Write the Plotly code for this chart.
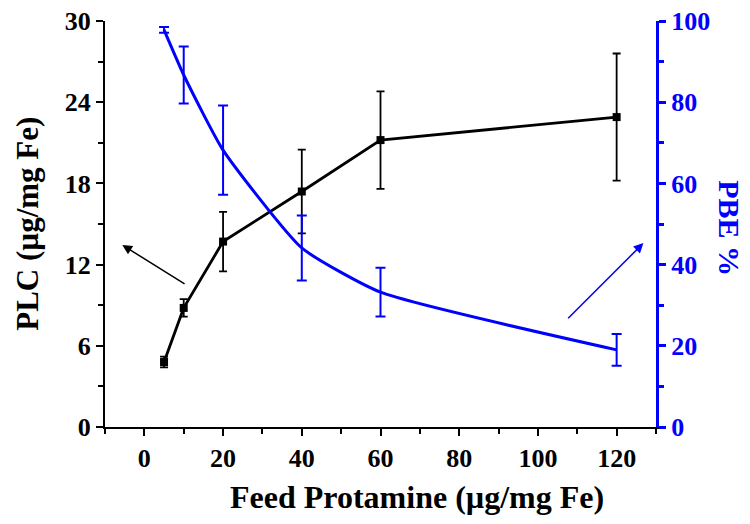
import plotly.graph_objects as go

# Feed protamine vs loading capacity / binding efficiency
feed = [5, 10, 20, 40, 60, 120]
plc = [4.8, 8.8, 13.7, 17.4, 21.2, 22.9]
plc_err = [0.4, 0.65, 2.2, 3.1, 3.6, 4.7]
pbe = [97.8, 86.7, 68.2, 44.1, 33.2, 19.0]
pbe_err = [0.7, 7.0, 11.0, 8.0, 6.0, 3.9]

FONT = "Liberation Serif"
BLUE = "#0000ff"

fig = go.Figure()

fig.add_trace(go.Scatter(
    x=feed, y=plc, mode="lines+markers", name="PLC",
    line=dict(color="black", width=2.8),
    marker=dict(symbol="square", size=8, color="black"),
    error_y=dict(type="data", array=plc_err, color="black", thickness=1.8, width=4),
))

fig.add_trace(go.Scatter(
    x=feed, y=pbe, mode="lines", name="PBE", yaxis="y2",
    line=dict(color=BLUE, width=3, shape="spline", smoothing=0.5),
    error_y=dict(type="data", array=pbe_err, color=BLUE, thickness=2, width=5),
))

tick_font = dict(family=FONT, size=26, color="black", weight="bold")
title_font = dict(family=FONT, size=32, color="black", weight="bold")

# page body has an 8px margin, so the figure is a bit smaller than the window
fig.update_layout(
    width=742, height=516,
    margin=dict(l=97, r=94, t=13, b=97),
    paper_bgcolor="white", plot_bgcolor="white",
    showlegend=False,
    font=dict(family=FONT),
    xaxis=dict(
        range=[-10, 130], tickvals=[0, 20, 40, 60, 80, 100, 120],
        ticks="outside", ticklen=7, tickwidth=2, tickcolor="black",
        minor=dict(dtick=10, tick0=0, ticks="outside", ticklen=5, tickwidth=2, tickcolor="black"),
        showline=True, linecolor="black", linewidth=2,
        showgrid=False, zeroline=False, automargin=False,
        ticklabeloverflow="allow",
        tickfont=tick_font,
    ),
    yaxis=dict(
        range=[0, 30], dtick=6,
        ticks="outside", ticklen=7, tickwidth=2, tickcolor="black",
        minor=dict(dtick=3, ticks="outside", ticklen=5, tickwidth=2, tickcolor="black"),
        showline=True, linecolor="black", linewidth=2,
        showgrid=False, zeroline=False, automargin=False,
        ticklabeloverflow="allow",
        tickfont=tick_font,
    ),
    yaxis2=dict(
        range=[0, 100], dtick=20, overlaying="y", side="right",
        ticks="outside", ticklen=7, tickwidth=2.5, tickcolor=BLUE,
        minor=dict(dtick=10, ticks="outside", ticklen=5, tickwidth=2.5, tickcolor=BLUE),
        showline=True, linecolor=BLUE, linewidth=3,
        showgrid=False, zeroline=False, automargin=False,
        ticklabeloverflow="allow",
        tickfont=dict(family=FONT, size=26, color=BLUE, weight="bold"),
    ),
    annotations=[
        dict(text="Feed Protamine (µg/mg Fe)", xref="paper", yref="paper", x=0.566, y=-0.172,
             xanchor="center", yanchor="middle", showarrow=False, font=title_font),
        dict(text="PLC (µg/mg Fe)", xref="paper", yref="paper", x=-0.142, y=0.5,
             xanchor="center", yanchor="middle", textangle=-90, showarrow=False,
             font=dict(family=FONT, size=31, color="black", weight="bold")),
        dict(text="PBE %", xref="paper", yref="paper", x=1.134, y=0.49,
             xanchor="center", yanchor="middle", textangle=90, showarrow=False,
             font=dict(family=FONT, size=30, color=BLUE, weight="bold")),
        # arrows pointing to each axis
        dict(x=-5.6, y=13.45, ax=10.6, ay=10.5, xref="x", yref="y", axref="x", ayref="y",
             text="", showarrow=True, arrowhead=2, arrowsize=1.3, arrowwidth=1.5,
             arrowcolor="black"),
        dict(x=126.8, y=45.3, ax=107.3, ay=26.4, xref="x", yref="y2", axref="x", ayref="y2",
             text="", showarrow=True, arrowhead=2, arrowsize=1.3, arrowwidth=1.5,
             arrowcolor=BLUE),
    ],
)

fig.write_html("out.html")
